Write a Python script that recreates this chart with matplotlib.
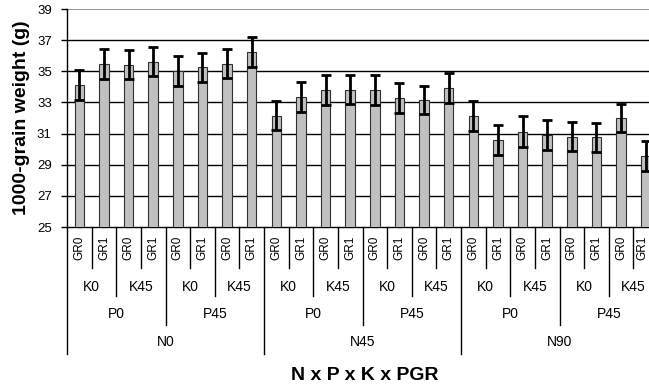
import matplotlib
matplotlib.use("Agg")
import matplotlib.pyplot as plt
from matplotlib.transforms import blended_transform_factory
from matplotlib.lines import Line2D
import numpy as np

plt.rcParams['font.family'] = ['Liberation Sans', 'DejaVu Sans']

# ---- data ----
values = [34.12, 35.49, 35.43, 35.62, 35.04, 35.26, 35.49, 36.24,
          32.16, 33.33, 33.80, 33.82, 33.80, 33.31, 33.16, 33.95,
          32.12, 30.56, 31.13, 30.88, 30.81, 30.75, 32.00, 29.55]
errors = [0.97, 0.96, 0.92, 0.92, 0.96, 0.94, 0.92, 0.96,
          0.96, 0.96, 0.94, 0.94, 0.94, 0.96, 0.92, 0.97,
          0.98, 0.96, 0.97, 0.96, 0.92, 0.92, 0.90, 0.98]
pgr_labels = ["GR0", "GR1"] * 12
k_labels = ["K0", "K45"] * 6
p_labels = ["P0", "P45"] * 3
n_labels = ["N0", "N45", "N90"]
yticks = [25, 27, 29, 31, 33, 35, 37, 39]

W, H = 649, 389
fig = plt.figure(figsize=(W / 100, H / 100), dpi=100)
x0, x1, ytop, ybot = 67, 658, 9, 227
ax = fig.add_axes([x0 / W, 1 - ybot / H, (x1 - x0) / W, (ybot - ytop) / H])

n = len(values)
x = np.arange(n)
ax.bar(x, values, width=0.39, bottom=0, color="#c0c0c0", edgecolor="#303030",
       linewidth=0.8, zorder=3)
ax.errorbar(x, values, yerr=errors, fmt="none", ecolor="black", elinewidth=2,
            capsize=3.5, capthick=2, zorder=4)

ax.set_xlim(-0.5, n - 0.5)
ax.set_ylim(25, 39)
ax.set_yticks(yticks)
ax.set_yticklabels([str(t) for t in yticks], fontsize=9.5)
ax.tick_params(axis="y", direction="out", length=4, width=1, pad=7)
ax.set_xticks([])
for t in yticks[1:-1]:
    ax.axhline(t, color="black", linewidth=1, zorder=1)
ax.axhline(39, color="#808080", linewidth=1.2, zorder=1)

for s in ["top", "right"]:
    ax.spines[s].set_visible(False)
ax.spines["left"].set_linewidth(1)
ax.spines["bottom"].set_linewidth(1)

ax.set_ylabel("1000-grain weight (g)", fontsize=14, fontweight="bold", labelpad=5)

trans = blended_transform_factory(ax.transData, fig.transFigure)

def fy(py):
    return 1 - py / H

def vline(xd, ybottom_px):
    ln = Line2D([xd, xd], [fy(ybot), fy(ybottom_px)], transform=trans,
                color="black", linewidth=1, clip_on=False)
    ax.add_line(ln)

# separators
for b in range(0, n + 1):
    xb = b - 0.5
    if b % 8 == 0:
        yb = 354
    elif b % 4 == 0:
        yb = 325
    elif b % 2 == 0:
        yb = 296
    else:
        yb = 268
    vline(xb, yb)

# labels
for i, lab in enumerate(pgr_labels):
    xi = i if i < n - 1 else i - 0.12
    ax.text(xi, fy(248), lab, transform=trans, rotation=90, ha="center",
            va="center", fontsize=8.5)
for j, lab in enumerate(k_labels):
    ax.text(2 * j + 0.5, fy(287), lab, transform=trans, ha="center",
            va="center", fontsize=10)
for j, lab in enumerate(p_labels):
    ax.text(4 * j + 1.5, fy(314), lab, transform=trans, ha="center",
            va="center", fontsize=10)
for j, lab in enumerate(n_labels):
    ax.text(8 * j + 3.5, fy(342), lab, transform=trans, ha="center",
            va="center", fontsize=10)

fig.text(365 / W, fy(375), "N x P x K x PGR", ha="center",
         va="center", fontsize=14, fontweight="bold")

fig.savefig("out.png", dpi=100)
